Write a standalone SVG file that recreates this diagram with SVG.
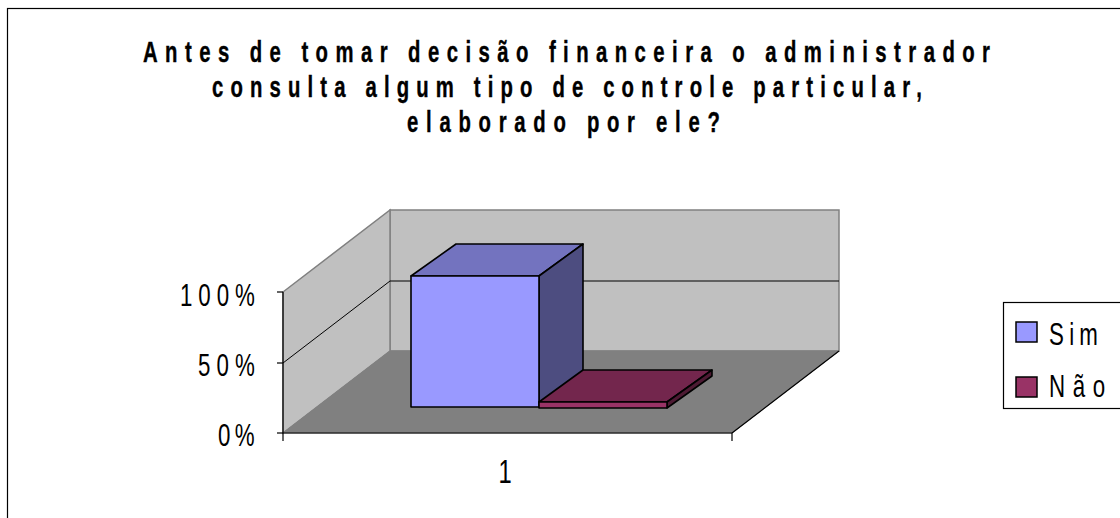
<svg xmlns="http://www.w3.org/2000/svg" width="1120" height="518" viewBox="0 0 1120 518">
<style>
.t{font-family:"Liberation Sans",Arial,sans-serif;fill:#000}
.tb{font-weight:bold;font-size:29px;stroke:#000;stroke-width:0.4}
.tr{font-size:31px}
.wall{fill:#C0C0C0;stroke:#808080;stroke-width:1.5}
.floor{fill:#808080;stroke:#808080;stroke-width:1}
.grid{stroke:#000;stroke-width:1;fill:none}
.ax{stroke:#000;stroke-width:1.2;fill:none}
.bar{stroke:#000;stroke-width:1.6;stroke-linejoin:round}
</style>
<rect x="0" y="0" width="1120" height="518" fill="#fff"/>
<rect x="7.5" y="8.5" width="1130" height="530" fill="#fff" stroke="#000" stroke-width="1.2"/>

<g id="title">
<text class="t tb" transform="translate(143,62) scale(0.7,1)" x="0" y="0" textLength="1210" lengthAdjust="spacing">Antes de tomar decisão financeira o administrador</text>
<text class="t tb" transform="translate(212,97) scale(0.7,1)" x="0" y="0" textLength="1014" lengthAdjust="spacing">consulta algum tipo de controle particular,</text>
<text class="t tb" transform="translate(407,132) scale(0.7,1)" x="0" y="0" textLength="447" lengthAdjust="spacing">elaborado por ele?</text>
</g>

<g id="plot-area">
<polygon class="wall" points="390,210 839,210 839,351 390,351"/>
<polygon class="wall" points="283,292 390,210 390,351 283,433"/>
<polygon class="floor" points="283,433 390,351 839,351 732,433"/>
<line class="grid" x1="390" y1="281" x2="839" y2="281"/>
<line class="grid" x1="283" y1="363" x2="390" y2="281"/>
<line class="ax" x1="732" y1="433" x2="839" y2="351"/>
</g>

<g id="axes">
<line class="ax" x1="283" y1="292" x2="283" y2="441"/>
<line class="ax" x1="283" y1="433" x2="732" y2="433"/>
<line class="ax" x1="732" y1="433" x2="732" y2="441"/>
<line class="ax" x1="277" y1="292" x2="283" y2="292"/>
<line class="ax" x1="277" y1="363" x2="283" y2="363"/>
<line class="ax" x1="277" y1="433" x2="283" y2="433"/>
<text class="t tr" transform="translate(180,306) scale(0.72,1)" x="0" y="0" textLength="104" lengthAdjust="spacing">100%</text>
<text class="t tr" transform="translate(198,376) scale(0.72,1)" x="0" y="0" textLength="79" lengthAdjust="spacing">50%</text>
<text class="t tr" transform="translate(218,446) scale(0.72,1)" x="0" y="0" textLength="51" lengthAdjust="spacing">0%</text>
<text class="t" font-size="33" transform="translate(505,483) scale(0.72,1)" x="0" y="0" text-anchor="middle">1</text>
</g>

<g id="bar-sim">
<polygon class="bar" fill="#7373BF" points="411,276 456,244 583,244 539,276"/>
<polygon class="bar" fill="#4D4D80" points="539,276 583,244 583,375 539,407"/>
<rect class="bar" fill="#9999FF" x="411" y="276" width="128" height="131"/>
</g>

<g id="bar-nao">
<polygon class="bar" fill="#73264D" points="539,402 583,370 712,370 667,402"/>
<polygon class="bar" fill="#4D1A33" points="667,402 712,370 712,376 667,408"/>
<rect class="bar" fill="#993366" x="539" y="402" width="128" height="6"/>
</g>

<g id="legend">
<rect x="1003.5" y="302.5" width="130" height="106" fill="#fff" stroke="#000" stroke-width="1.2"/>
<rect x="1016" y="322" width="21" height="20" fill="#9999FF" stroke="#000" stroke-width="1.5"/>
<text class="t tr" transform="translate(1049,345) scale(0.72,1)" x="0" y="0" textLength="68" lengthAdjust="spacing">Sim</text>
<rect x="1016" y="377" width="21" height="20" fill="#993366" stroke="#000" stroke-width="1.5"/>
<text class="t tr" transform="translate(1049,397) scale(0.72,1)" x="0" y="0" textLength="78" lengthAdjust="spacing">Não</text>
</g>
</svg>
